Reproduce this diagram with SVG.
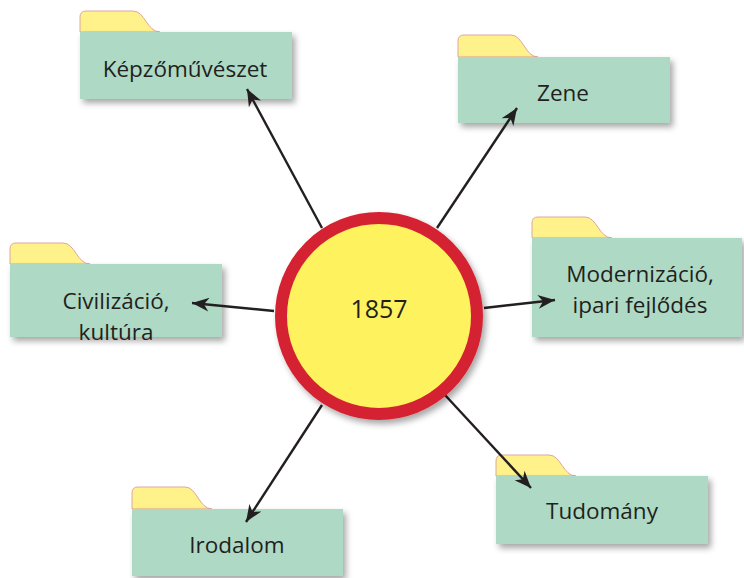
<svg xmlns="http://www.w3.org/2000/svg" width="744" height="578" viewBox="0 0 744 578">
<defs>
<filter id="sh" x="-10%" y="-10%" width="130%" height="140%">
<feDropShadow dx="3" dy="4" stdDeviation="3" flood-color="#000" flood-opacity="0.35"/>
</filter>
<marker id="ah" markerWidth="18" markerHeight="14" refX="17" refY="7" orient="auto" markerUnits="userSpaceOnUse">
<path d="M0,0 L17,7 L0,14 L5,7 z" fill="#231f20"/>
</marker>
</defs>
<style>
.tab{fill:#fff28a;stroke:#e0a4a0;stroke-width:1}
.body{fill:#aed9c5}
.lbl{font-family:"Open Sans","Noto Sans",sans-serif;font-size:22.5px;fill:#231f20;text-anchor:middle}
.con{stroke:#231f20;stroke-width:2.4;fill:none;marker-end:url(#ah)}
</style>
<rect width="744" height="578" fill="#fff"/>
<g id="kepzomuveszet">
<path class="tab" d="M80,32 V17 Q80,11 86,11 H133 C145,11 147,32 160,32 Z"/>
<rect class="body" x="80" y="32" width="212" height="67" filter="url(#sh)"/>
<text class="lbl" x="185" y="77">Képzőművészet</text>
</g>
<g id="zene">
<path class="tab" d="M458,57 V41 Q458,35 464,35 H511 C523,35 525,57 538,57 Z"/>
<rect class="body" x="458" y="57" width="212" height="66" filter="url(#sh)"/>
<text class="lbl" x="563" y="101">Zene</text>
</g>
<g id="civilizacio">
<path class="tab" d="M10,264 V249 Q10,243 16,243 H63 C75,243 77,264 90,264 Z"/>
<rect class="body" x="10" y="264" width="212" height="73" filter="url(#sh)"/>
<text class="lbl" x="116" y="309">Civilizáció,</text>
<text class="lbl" x="116" y="340">kultúra</text>
</g>
<g id="modernizacio">
<path class="tab" d="M532,238 V223 Q532,217 538,217 H585 C597,217 599,238 612,238 Z"/>
<rect class="body" x="532" y="238" width="210" height="99" filter="url(#sh)"/>
<text class="lbl" x="640" y="282">Modernizáció,</text>
<text class="lbl" x="640" y="313">ipari fejlődés</text>
</g>
<g id="irodalom">
<path class="tab" d="M132,509 V493 Q132,487 138,487 H185 C197,487 199,509 212,509 Z"/>
<rect class="body" x="132" y="509" width="211" height="67" filter="url(#sh)"/>
<text class="lbl" x="237" y="553">Irodalom</text>
</g>
<g id="tudomany">
<path class="tab" d="M496,476 V461 Q496,455 502,455 H549 C561,455 563,476 576,476 Z"/>
<rect class="body" x="496" y="476" width="212" height="68" filter="url(#sh)"/>
<text class="lbl" x="602" y="519">Tudomány</text>
</g>
<g id="connectors">
<line class="con" x1="322" y1="228" x2="247" y2="89"/>
<line class="con" x1="437" y1="228" x2="517" y2="108"/>
<line class="con" x1="274" y1="311" x2="192" y2="303"/>
<line class="con" x1="484" y1="308" x2="555" y2="300"/>
<line class="con" x1="322" y1="405" x2="246" y2="522"/>
<line class="con" x1="445" y1="395" x2="531" y2="488"/>
</g>
<g id="center">
<circle cx="379" cy="316" r="98" fill="#fff25f" stroke="#d52330" stroke-width="12" filter="url(#sh)"/>
<text class="lbl" x="379" y="318" style="font-size:25px">1857</text>
</g>
</svg>
